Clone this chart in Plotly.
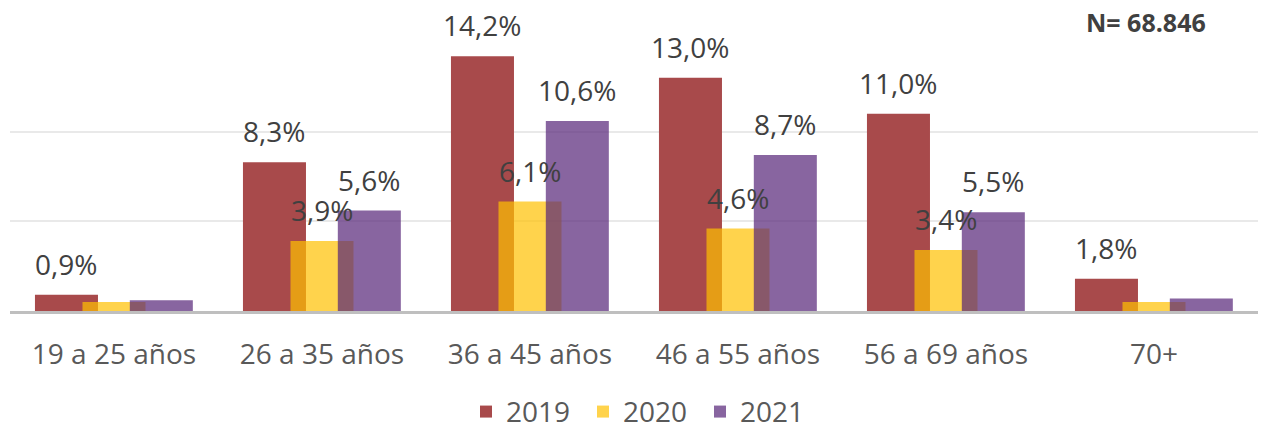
import plotly.graph_objects as go

categories = ["19 a 25 años", "26 a 35 años", "36 a 45 años", "46 a 55 años", "56 a 69 años", "70+"]
years = ["2019", "2020", "2021"]
v2019 = [0.9, 8.3, 14.2, 13.0, 11.0, 1.8]
v2020 = [0.5, 3.9, 6.1, 4.6, 3.4, 0.5]
v2021 = [0.6, 5.6, 10.6, 8.7, 5.5, 0.7]
labels2019 = ["0,9%", "8,3%", "14,2%", "13,0%", "11,0%", "1,8%"]
labels2020 = ["", "3,9%", "6,1%", "4,6%", "3,4%", ""]
labels2021 = ["", "5,6%", "10,6%", "8,7%", "5,5%", ""]
note = "N= 68.846"

series = [v2019, v2020, v2021]
texts = [labels2019, labels2020, labels2021]
colors = ["rgb(168,74,75)", "rgba(255,192,0,0.7)", "rgba(85,36,119,0.7)"]
width = 0.303
offsets = [-0.38, -0.1515, 0.076]
font = "Open Sans, Noto Sans, sans-serif"

fig = go.Figure()
for name, vals, col, off in zip(years, series, colors, offsets):
    fig.add_trace(go.Bar(
        x=categories, y=vals, name=name, width=width, offset=off,
        marker=dict(color=col, line=dict(width=0)),
    ))

cat_px = 1248 / 6
for vals, labs, off in zip(series, texts, offsets):
    shift = (off + width / 2) * cat_px
    for c, v, t in zip(categories, vals, labs):
        if t:
            fig.add_annotation(x=c, y=v, text=t, showarrow=False, xshift=shift, yshift=31,
                               yanchor="middle", font=dict(size=28, color="#404040", family=font))

fig.add_annotation(x=0.91, y=1.075, xref="paper", yref="paper", text="<b>" + note + "</b>",
                   showarrow=False, xanchor="center", yanchor="middle",
                   font=dict(size=25, color="#404040", family=font))

fig.update_layout(
    width=1273, height=428, barmode="overlay",
    margin=dict(l=2, r=23, t=34, b=125, autoexpand=False),
    paper_bgcolor="white", plot_bgcolor="white",
    font=dict(family=font, size=28, color="#595959"),
    showlegend=True,
    legend=dict(orientation="h", x=0.506, xanchor="center", y=-0.375, yanchor="middle",
                font=dict(size=28, color="#595959"), itemclick=False,
                entrywidth=72, entrywidthmode="pixels"),
    xaxis=dict(showline=True, linecolor="#BFBFBF", linewidth=2.5, ticks="", ticklabelstandoff=17,
               tickfont=dict(size=28, color="#595959"), automargin=False),
    yaxis=dict(range=[0, 15], dtick=5, showticklabels=False, showgrid=True, gridcolor="#E9E9E9",
               gridwidth=1.5, zeroline=False, automargin=False),
)

fig.write_html("out.html")
